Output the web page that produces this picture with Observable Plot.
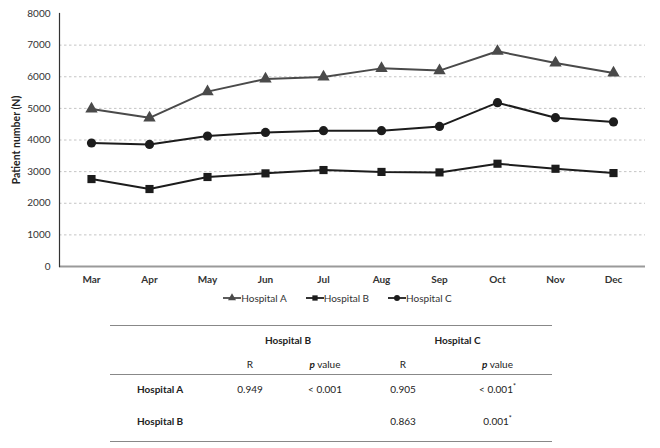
<!DOCTYPE html>
<html>
<head>
<meta charset="utf-8">
<script src="https://cdn.jsdelivr.net/npm/d3@7"></script>
<script src="https://cdn.jsdelivr.net/npm/@observablehq/plot@0.6"></script>
<style>
  html, body { margin: 0; padding: 0; background: #fff; }
  #wrap { position: relative; width: 660px; height: 448px; font-family: Lato, "Open Sans", sans-serif; color: #333; }
  #legend { position: absolute; left: 0; width: 660px; top: 290px; height: 16px; display: flex; justify-content: center; gap: 19px; font-size: 10px; box-sizing: border-box; padding-left: 15px; }
  #legend .item { display: flex; align-items: center; }
  #legend svg { display: block; }
  #tbl { position: absolute; left: 110px; top: 325px; width: 442px; border-collapse: collapse; font-size: 10px; color: #222; table-layout: fixed; }
  #tbl td { text-align: center; padding: 0; box-sizing: border-box; line-height: 12px; }
  #tbl td.lab { text-align: left; font-weight: bold; padding-left: 27px; }
  #tbl tr.h1 td { height: 28px; font-weight: bold; }
  #tbl tr.h2 td { height: 21px; }
  #tbl tr.r1 td { height: 29px; }
  #tbl tr.r2 td { height: 38px; padding-bottom: 3px; }
  #tbl tr.top td { border-top: 1.5px solid #888; }
  #tbl tr.mid td { border-top: 1.5px solid #888; }
  #tbl tr.bot td { border-bottom: 1.5px solid #888; }
  sup { font-size: 7px; line-height: 0; }
</style>
</head>
<body>
<div id="wrap"></div>
<script>
const months = ["Mar", "Apr", "May", "Jun", "Jul", "Aug", "Sep", "Oct", "Nov", "Dec"];
const hospitalA = [4980, 4700, 5530, 5930, 5995, 6265, 6195, 6805, 6435, 6120];
const hospitalB = [2765, 2450, 2830, 2945, 3050, 2990, 2975, 3250, 3090, 2955];
const hospitalC = [3905, 3860, 4125, 4240, 4295, 4295, 4430, 5180, 4705, 4570];
const seriesNames = ["Hospital A", "Hospital B", "Hospital C"];
const seriesColors = ["#4a4a4a", "#1c1c1c", "#1c1c1c"];
const seriesSymbols = ["triangle", "square", "circle"];
const yTicks = [0, 1000, 2000, 3000, 4000, 5000, 6000, 7000, 8000];

const tableRows = ["Hospital A", "Hospital B"];
const rB = ["0.949", ""];
const pB = ["< 0.001", ""];
const rC = ["0.905", "0.863"];
const pC = ["< 0.001", "0.001"];
const pCstar = ["*", "*"];

const seriesValues = [hospitalA, hospitalB, hospitalC];
const data = seriesNames.flatMap((s, i) => months.map((m, j) => ({series: s, month: m, value: seriesValues[i][j]})));

const chart = Plot.plot({
  width: 660,
  height: 290,
  marginLeft: 59,
  marginRight: 15,
  marginTop: 13,
  marginBottom: 24,
  style: {fontFamily: "Lato, 'Open Sans', sans-serif", fontSize: "10px", color: "#333", background: "#fff"},
  x: {type: "point", domain: months, padding: 0.5},
  y: {domain: [0, 8000]},
  color: {domain: seriesNames, range: seriesColors},
  symbol: {domain: seriesNames, range: seriesSymbols},
  marks: [
    Plot.gridY(yTicks.slice(1, -1), {stroke: "#c4c4c4", strokeOpacity: 1, strokeDasharray: "2.5,2.5"}),
    Plot.ruleY([0], {stroke: "#9a9a9a", strokeWidth: 2}),
    Plot.frame({anchor: "left", stroke: "#333", strokeWidth: 1.2}),
    Plot.axisY(yTicks, {tickSize: 0, tickPadding: 9, tickFormat: d => String(d), label: "Patient number (N)", labelAnchor: "center", labelArrow: "none", labelOffset: 47, fill: "#333"}),
    Plot.axisX({tickSize: 0, tickPadding: 9, label: null, fontWeight: "bold", fill: "#333"}),
    Plot.line(data, {x: "month", y: "value", z: "series", stroke: "series", strokeWidth: 2}),
    Plot.dot(data, {x: "month", y: "value", symbol: "series", fill: "series", r: 4.6, stroke: "none"})
  ]
});
document.getElementById("wrap").appendChild(chart);
d3.select(chart).selectAll("g[aria-label='y-axis label'] text").attr("font-weight", "bold").attr("fill", "#222").style("font-size", "10.5px");

// Legend
const legend = d3.select("#wrap").append("div").attr("id", "legend");
const symMap = {triangle: d3.symbolTriangle, square: d3.symbolSquare, circle: d3.symbolCircle};
seriesNames.forEach((s, i) => {
  const it = legend.append("div").attr("class", "item");
  const svg = it.append("svg").attr("width", 18).attr("height", 12);
  svg.append("line").attr("x1", 0).attr("x2", 18).attr("y1", 6).attr("y2", 6).attr("stroke", seriesColors[i]).attr("stroke-width", 1.8);
  svg.append("path").attr("transform", "translate(9,6)").attr("d", d3.symbol(symMap[seriesSymbols[i]], 28)()).attr("fill", seriesColors[i]);
  it.append("span").text(s).style("color", "#333");
});

// Table
const tbl = d3.select("#wrap").append("table").attr("id", "tbl");
const colgroup = tbl.append("colgroup");
[103, 74, 76, 80, 109].forEach(w => colgroup.append("col").style("width", w + "px"));
const h1 = tbl.append("tr").attr("class", "h1 top");
h1.append("td");
h1.append("td").attr("colspan", 2).text("Hospital B");
h1.append("td").attr("colspan", 2).text("Hospital C");
const h2 = tbl.append("tr").attr("class", "h2");
h2.append("td");
h2.append("td").text("R");
h2.append("td").html("<i><b>p</b></i> value");
h2.append("td").text("R");
h2.append("td").html("<i><b>p</b></i> value");
tableRows.forEach((r, i) => {
  const tr = tbl.append("tr").attr("class", i === 0 ? "r1 mid" : "r2 bot");
  tr.append("td").attr("class", "lab").text(r);
  tr.append("td").text(rB[i]);
  tr.append("td").text(pB[i]);
  tr.append("td").text(rC[i]);
  tr.append("td").html(pC[i] + "<sup>" + pCstar[i] + "</sup>");
});
</script>
</body>
</html>
